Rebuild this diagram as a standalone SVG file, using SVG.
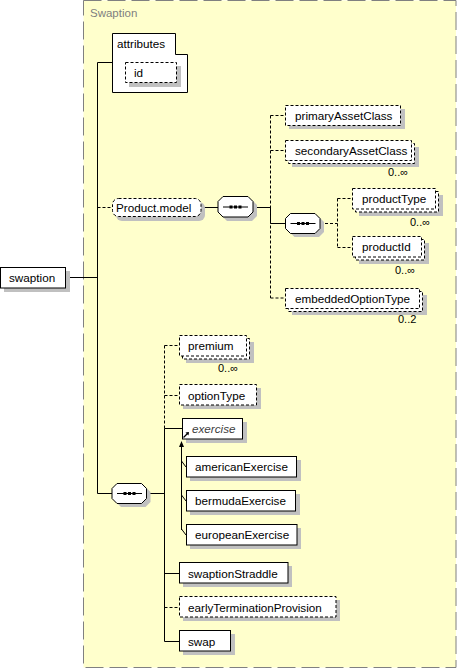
<svg xmlns="http://www.w3.org/2000/svg" width="457" height="669" viewBox="0 0 457 669">
<style>
text{font-family:"Liberation Sans",Arial,sans-serif;font-size:11.7px;fill:#000}
.lbl{fill:#808080;font-size:11.5px}
.occ{font-size:11px}
.it{font-style:italic;fill:#404040}
.box{fill:#fff;stroke:#000;stroke-width:1}
.dbox{fill:#fff;stroke:#000;stroke-width:1;stroke-dasharray:3,2}
.sh{fill:#c0c0c0}
.ln{fill:none;stroke:#000;stroke-width:1}
.dl{fill:none;stroke:#000;stroke-width:1;stroke-dasharray:3,2}
</style>
<defs>
<g id="seqicon">
<line x1="5" y1="10.5" x2="30" y2="10.5" stroke="#000"/>
<rect x="11.5" y="9" width="3" height="3" fill="#000"/>
<rect x="16" y="9" width="3" height="3" fill="#000"/>
<rect x="20.5" y="9" width="3" height="3" fill="#000"/>
</g>
</defs>
<rect x="83.5" y="0.5" width="372.5" height="667" fill="#ffffcc" stroke="#808080" stroke-dasharray="18,6"/>
<text class="lbl" x="90" y="17">Swaption</text>

<g id="connectors">
<line class="ln" x1="66" y1="277.5" x2="97.5" y2="277.5"/>
<line class="ln" x1="97.5" y1="62.5" x2="97.5" y2="493.5"/>
<line class="ln" x1="97.5" y1="62.5" x2="112" y2="62.5"/>
<line class="dl" x1="97.5" y1="207.5" x2="112.5" y2="207.5"/>
<line class="ln" x1="97.5" y1="493.5" x2="112" y2="493.5"/>
<line class="ln" x1="201" y1="207.5" x2="218" y2="207.5"/>
<line class="ln" x1="253" y1="207.5" x2="270.5" y2="207.5"/>
<line class="dl" x1="270.5" y1="115.5" x2="270.5" y2="298"/>
<line class="ln" x1="270.5" y1="207.5" x2="270.5" y2="223.5"/>
<line class="dl" x1="270.5" y1="115.5" x2="285" y2="115.5"/>
<line class="dl" x1="270.5" y1="150.5" x2="285" y2="150.5"/>
<line class="dl" x1="270.5" y1="298" x2="285" y2="298"/>
<line class="ln" x1="270.5" y1="223.5" x2="285.5" y2="223.5"/>
<line class="dl" x1="320" y1="223.5" x2="337.5" y2="223.5"/>
<line class="dl" x1="337.5" y1="198.5" x2="337.5" y2="247.5"/>
<line class="dl" x1="337.5" y1="198.5" x2="352" y2="198.5"/>
<line class="dl" x1="337.5" y1="247.5" x2="352" y2="247.5"/>
<line class="ln" x1="147" y1="493.5" x2="164.5" y2="493.5"/>
<line class="dl" x1="164.5" y1="345.5" x2="164.5" y2="428.5"/>
<line class="ln" x1="164.5" y1="428.5" x2="164.5" y2="641.5"/>
<line class="dl" x1="164.5" y1="345.5" x2="179" y2="345.5"/>
<line class="dl" x1="164.5" y1="395.5" x2="179" y2="395.5"/>
<line class="ln" x1="164.5" y1="428.5" x2="182" y2="428.5"/>
<line class="ln" x1="164.5" y1="573.5" x2="179" y2="573.5"/>
<line class="dl" x1="164.5" y1="607.5" x2="179" y2="607.5"/>
<line class="ln" x1="164.5" y1="641.5" x2="179" y2="641.5"/>
<line class="ln" x1="181.5" y1="446" x2="181.5" y2="530"/>
<path d="M181.5,441 L184,447 L179,447 Z" fill="#000"/>
<line class="ln" x1="181.5" y1="461" x2="186" y2="467"/>
<line class="ln" x1="181.5" y1="495" x2="186" y2="501"/>
<line class="ln" x1="181.5" y1="529" x2="186" y2="535"/>
</g>

<g id="swaption">
<rect class="sh" x="4" y="271" width="66" height="21"/>
<rect class="box" x="0.5" y="267.5" width="65" height="20.5"/>
<text x="9" y="282">swaption</text>
</g>

<g id="attributes">
<path class="box" d="M112.5,33.5 H175.5 V54.5 H187.5 V92.5 H112.5 Z"/>
<text x="117" y="47.5">attributes</text>
</g>
<g id="id">
<rect class="sh" x="129" y="66" width="52" height="21"/>
<rect class="dbox" x="125.5" y="62.5" width="51" height="20"/>
<text x="134" y="76.5">id</text>
</g>

<g id="product-model">
<rect class="sh" x="116" y="202" width="89" height="19" rx="6"/>
<rect class="dbox" x="112.5" y="198.5" width="88.5" height="18" rx="6"/>
<text x="116" y="211.5">Product.model</text>
</g>

<g id="seq1">
<path class="sh" d="M227,200 H252 L257,205 V216 L252,221 H227 L222,216 V205 Z"/>
<path class="box" d="M223,196.5 H248 L253,201.5 V212 L248,217 H223 L218,212 V201.5 Z"/>
<use href="#seqicon" x="218" y="196.5"/>
</g>

<g id="seq2">
<path class="sh" d="M294.5,217 H319 L324,222 V232 L319,237 H294.5 L289.5,232 V222 Z"/>
<path class="box" d="M290.5,213.5 H315 L320,218.5 V228.5 L315,233.5 H290.5 L285.5,228.5 V218.5 Z"/>
<use href="#seqicon" x="285.5" y="213"/>
</g>

<g id="primaryAssetClass">
<rect class="sh" x="289" y="109" width="116" height="20"/>
<rect class="dbox" x="285.5" y="105.5" width="115" height="20"/>
<text x="295" y="120">primaryAssetClass</text>
</g>

<g id="secondaryAssetClass">
<rect class="sh" x="292" y="147" width="127" height="20"/>
<rect class="dbox" x="288.5" y="143.5" width="126" height="20"/>
<rect class="dbox" x="285.5" y="140.5" width="126" height="20"/>
<text x="295" y="155">secondaryAssetClass</text>
<text class="occ" x="388" y="176">0..∞</text>
</g>

<g id="productType">
<rect class="sh" x="359" y="195" width="84" height="21"/>
<rect class="dbox" x="355.5" y="191.5" width="83" height="20.5"/>
<rect class="dbox" x="352.5" y="188.5" width="83" height="20.5"/>
<text x="362" y="203">productType</text>
<text class="occ" x="410" y="226">0..∞</text>
</g>

<g id="productId">
<rect class="sh" x="359" y="243" width="70" height="21"/>
<rect class="dbox" x="355.5" y="239.5" width="69" height="20.5"/>
<rect class="dbox" x="352.5" y="236.5" width="69" height="20.5"/>
<text x="362" y="251">productId</text>
<text class="occ" x="395" y="274">0..∞</text>
</g>

<g id="embeddedOptionType">
<rect class="sh" x="292" y="295" width="135" height="20"/>
<rect class="dbox" x="288.5" y="291.5" width="134" height="20"/>
<rect class="dbox" x="285.5" y="288.5" width="134" height="20"/>
<text x="295" y="302.5">embeddedOptionType</text>
<text class="occ" x="398" y="323">0..2</text>
</g>

<g id="seq3">
<path class="sh" d="M121,487 H145.5 L150.5,492 V502 L145.5,507 H121 L116,502 V492 Z"/>
<path class="box" d="M117,483.5 H141.5 L146.5,488.5 V498.5 L141.5,503.5 H117 L112,498.5 V488.5 Z"/>
<use href="#seqicon" x="112" y="483"/>
</g>

<g id="premium">
<rect class="sh" x="186" y="342" width="68" height="21"/>
<rect class="dbox" x="182.5" y="338.5" width="67" height="20.5"/>
<rect class="dbox" x="179.5" y="335.5" width="67" height="20.5"/>
<text x="188" y="349.5">premium</text>
<text class="occ" x="218" y="372">0..∞</text>
</g>

<g id="optionType">
<rect class="sh" x="183" y="388" width="78" height="21"/>
<rect class="dbox" x="179.5" y="384.5" width="77" height="20.5"/>
<text x="188" y="399.5">optionType</text>
</g>

<g id="exercise">
<rect class="sh" x="186" y="422" width="61" height="21"/>
<rect class="box" x="182.5" y="418.5" width="60" height="20.5"/>
<text class="it" x="192" y="433">exercise</text>
<line x1="183.5" y1="437.5" x2="188" y2="433" stroke="#000" stroke-width="1.2"/>
<path d="M189,432 L185.5,432.5 L188.5,435.5 Z" fill="#000"/>
</g>

<g id="americanExercise">
<rect class="sh" x="190" y="460" width="111" height="21"/>
<rect class="box" x="186.5" y="456.5" width="110" height="20.5"/>
<text x="195" y="471">americanExercise</text>
</g>

<g id="bermudaExercise">
<rect class="sh" x="190" y="494" width="110" height="21"/>
<rect class="box" x="186.5" y="490.5" width="109" height="20.5"/>
<text x="195" y="505">bermudaExercise</text>
</g>

<g id="europeanExercise">
<rect class="sh" x="190" y="528" width="111" height="21"/>
<rect class="box" x="186.5" y="524.5" width="110.5" height="20.5"/>
<text x="195" y="539">europeanExercise</text>
</g>

<g id="swaptionStraddle">
<rect class="sh" x="183" y="566" width="109" height="21"/>
<rect class="box" x="179.5" y="562.5" width="108.5" height="20.5"/>
<text x="188" y="577.5">swaptionStraddle</text>
</g>

<g id="earlyTerminationProvision">
<rect class="sh" x="183" y="600" width="157" height="21"/>
<rect class="dbox" x="179.5" y="596.5" width="156.5" height="20.5"/>
<text x="188" y="611.5">earlyTerminationProvision</text>
</g>

<g id="swap">
<rect class="sh" x="183" y="634" width="52" height="21"/>
<rect class="box" x="179.5" y="630.5" width="51" height="20.5"/>
<text x="188" y="645.5">swap</text>
</g>
</svg>
